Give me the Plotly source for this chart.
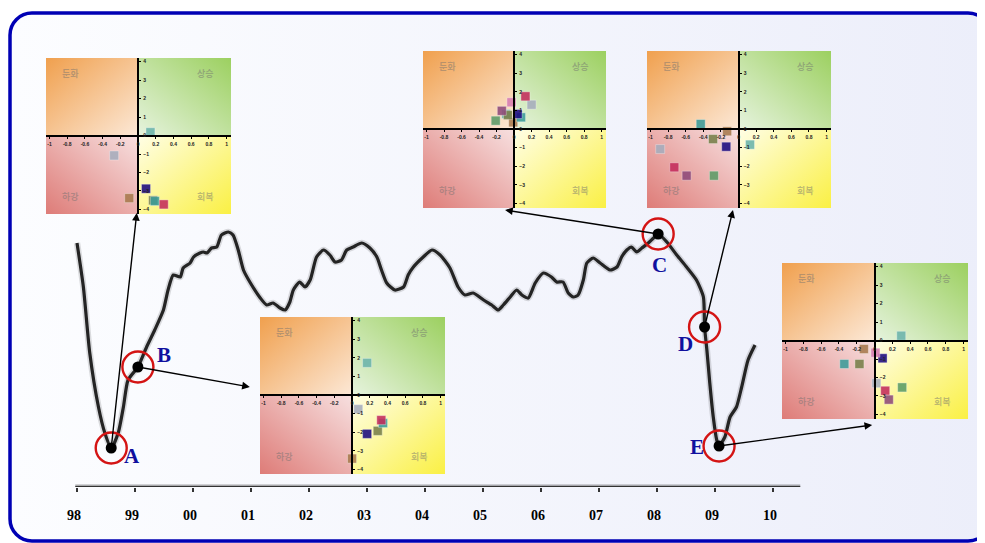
import base64
import plotly.graph_objects as go

# ---------------- data ----------------
# composite business-cycle line (decimal year, index value)
years = [1998.00, 1998.11, 1998.22, 1998.37, 1998.48, 1998.59, 1998.71, 1998.80, 1998.88, 1999.05,
         1999.20, 1999.34, 1999.49, 1999.57, 1999.66, 1999.78, 1999.83, 1999.95, 2000.01, 2000.12,
         2000.18, 2000.24, 2000.32, 2000.41, 2000.49, 2000.61, 2000.69, 2000.78, 2000.87, 2000.98,
         2001.16, 2001.27, 2001.38, 2001.50, 2001.59, 2001.67, 2001.73, 2001.84, 2001.93, 2002.02,
         2002.13, 2002.25, 2002.36, 2002.45, 2002.56, 2002.65, 2002.76, 2002.91, 2003.05, 2003.17,
         2003.25, 2003.34, 2003.48, 2003.63, 2003.71, 2003.80, 2003.97, 2004.12, 2004.26, 2004.43,
         2004.57, 2004.69, 2004.83, 2005.01, 2005.15, 2005.26, 2005.35, 2005.47, 2005.58, 2005.67,
         2005.78, 2005.90, 2006.04, 2006.18, 2006.27, 2006.38, 2006.47, 2006.56, 2006.64, 2006.73,
         2006.79, 2006.90, 2007.02, 2007.19, 2007.31, 2007.39, 2007.48, 2007.56, 2007.65, 2007.74,
         2007.85, 2007.94, 2008.02, 2008.17, 2008.34, 2008.51, 2008.68, 2008.80, 2008.82, 2008.86,
         2008.91, 2008.97, 2009.03, 2009.07, 2009.17, 2009.26, 2009.37, 2009.46, 2009.57, 2009.69]
index_vals = [244, 200, 134, 80, 54, 39, 54, 80, 107, 120,
              140, 157, 177, 197, 212, 210, 219, 224, 230, 234,
              235, 234, 239, 240, 252, 255, 252, 237, 217, 205,
              189, 182, 184, 179, 177, 185, 197, 205, 200, 207,
              230, 237, 232, 225, 227, 237, 240, 244, 239, 230,
              217, 204, 197, 200, 212, 220, 230, 237, 232, 219,
              200, 192, 194, 187, 182, 177, 182, 190, 197, 192,
              189, 204, 214, 210, 205, 205, 194, 190, 192, 207,
              224, 229, 224, 217, 220, 230, 237, 240, 235, 239,
              244, 249, 253, 245, 232, 220, 207, 190, 160, 137,
              104, 70, 47, 41, 50, 70, 80, 100, 127, 142]

event_labels = ['A', 'B', 'C', 'D', 'E']
event_year = [1998.59, 1999.05, 2008.02, 2008.82, 2009.07]
event_val = [39, 120, 253, 160, 41]

tick_years = list(range(1998, 2011))
tick_text = ['98', '99', '00', '01', '02', '03', '04', '05', '06', '07', '08', '09', '10']

# inset scatter series, values at snapshots A..E  (None = not shown)
teal_light_x = [0.14, 0.17, -0.09, 0.13, 0.30]
teal_light_y = [0.18, 1.73, 0.81, -0.84, 0.26]
gray_x = [-0.27, 0.07, 0.20, -0.89, 0.02]
gray_y = [-1.08, -0.76, 1.31, -1.08, -2.31]
brown_x = [-0.10, 0.00, -0.01, -0.13, -0.12]
brown_y = [-3.39, -3.42, 0.36, -0.12, -0.46]
navy_x = [0.09, 0.17, 0.04, -0.14, 0.09]
navy_y = [-2.88, -2.09, 0.81, -0.95, -0.96]
olive_x = [0.17, 0.29, -0.07, -0.29, -0.17]
olive_y = [-3.51, -1.93, 0.75, -0.54, -1.27]
crimson_x = [0.29, 0.33, 0.13, -0.73, 0.12]
crimson_y = [-3.73, -1.35, 1.76, -2.06, -2.72]
teal_x = [0.19, 0.35, 0.08, -0.43, -0.34]
teal_y = [-3.55, -1.51, 0.63, 0.27, -1.27]
pink_x = [None, None, -0.03, None, 0.01]
pink_y = [None, None, 1.44, None, -0.66]
plum_x = [None, None, -0.14, -0.59, 0.16]
plum_y = [None, None, 0.98, -2.51, -3.20]
green_x = [None, None, -0.21, -0.28, 0.31]
green_y = [None, None, 0.45, -2.51, -2.54]

inset_xticks = [-1, -0.8, -0.6, -0.4, -0.2, 0, 0.2, 0.4, 0.6, 0.8, 1]
inset_xtext = ['-1', '-0.8', '-0.6', '-0.4', '-0.2', '0', '0.2', '0.4', '0.6', '0.8', '1']
inset_yticks = [-4, -3, -2, -1, 0, 1, 2, 3, 4]
quad_labels = ['둔화', '상승', '하강', '회복']

# ---------------- style / layout ----------------
W, H = 985, 543
OFF = 8  # the page body margin shifts the figure by this many pixels
series = [
    (teal_light_x, teal_light_y, '#6cb4ac'),
    (gray_x, gray_y, '#a6adbd'),
    (brown_x, brown_y, '#a87a4e'),
    (olive_x, olive_y, '#78804a'),
    (teal_x, teal_y, '#3c9c9a'),
    (navy_x, navy_y, '#1c0a80'),
    (crimson_x, crimson_y, '#c42c5c'),
    (pink_x, pink_y, '#d67cb2'),
    (plum_x, plum_y, '#8e4a7a'),
    (green_x, green_y, '#5c9c68'),
]
# inset boxes in page pixels (left, top, right, bottom)
inset_boxes = [(46, 58, 231, 214), (260, 317, 445, 474), (423, 51, 606, 208),
               (647, 51, 831, 208), (782, 263, 968, 419)]
ix_range = [-1.04, 1.05]
iy_range = [-4.25, 4.2]
quad_pos = [(-0.76, 3.35), (0.76, 3.35), (-0.76, -3.3), (0.76, -3.3)]
label_shift = [(21, -8), (26, 12), (1, -31), (-19, -17), (-22, -1)]
tip_year = [1999.03, 2000.98, 2005.38, 2009.31, 2011.71]
tip_val = [274, 100, 277, 277, 62]

x0_px = 77 - OFF          # pixel of 1998 inside the figure
base_px = 487 - OFF       # pixel row of the time axis inside the figure
x_lo = 1998 - x0_px / 58.0
x_hi = 1998 + (W - x0_px) / 58.0
y_dom0 = 1 - base_px / H


def svg_uri(svg):
    return 'data:image/svg+xml;base64,' + base64.b64encode(svg.encode('utf-8')).decode('ascii')


panel_svg = (
    f'<svg xmlns="http://www.w3.org/2000/svg" width="{W}" height="{H}" viewBox="0 0 {W} {H}">'
    '<defs><linearGradient id="g" x1="0" y1="0" x2="1" y2="0">'
    '<stop offset="0" stop-color="#FCFDFF"/><stop offset="1" stop-color="#ECEEFA"/>'
    '</linearGradient></defs>'
    f'<rect x="{10 - OFF}" y="{13 - OFF}" width="980" height="528" rx="22" ry="22" fill="url(#g)" '
    'stroke="#0000B4" stroke-width="3.5"/></svg>'
)

fx = (0 - ix_range[0]) / (ix_range[1] - ix_range[0])
fy = (iy_range[1] - 0) / (iy_range[1] - iy_range[0])
qx, qy = fx * 1000, fy * 1000
inset_svg = (
    '<svg xmlns="http://www.w3.org/2000/svg" width="200" height="170" viewBox="0 0 1000 1000" '
    'preserveAspectRatio="none"><defs>'
    '<linearGradient id="tl" x1="0" y1="0" x2="1" y2="1"><stop offset="0" stop-color="#F0A04E"/>'
    '<stop offset="1" stop-color="#FCE8D6"/></linearGradient>'
    '<linearGradient id="tr" x1="1" y1="0" x2="0" y2="1"><stop offset="0" stop-color="#9CD060"/>'
    '<stop offset="1" stop-color="#E6F3DE"/></linearGradient>'
    '<linearGradient id="bl" x1="0" y1="1" x2="1" y2="0"><stop offset="0" stop-color="#DE7C78"/>'
    '<stop offset="1" stop-color="#F7E0E0"/></linearGradient>'
    '<linearGradient id="br" x1="1" y1="1" x2="0" y2="0"><stop offset="0" stop-color="#FAF044"/>'
    '<stop offset="1" stop-color="#FFFEE6"/></linearGradient></defs>'
    f'<rect x="0" y="0" width="{qx}" height="{qy}" fill="url(#tl)"/>'
    f'<rect x="{qx}" y="0" width="{1000 - qx}" height="{qy}" fill="url(#tr)"/>'
    f'<rect x="0" y="{qy}" width="{qx}" height="{1000 - qy}" fill="url(#bl)"/>'
    f'<rect x="{qx}" y="{qy}" width="{1000 - qx}" height="{1000 - qy}" fill="url(#br)"/>'
    '</svg>'
)

fig = go.Figure()

# main line (soft shadow + line)
fig.add_trace(go.Scatter(x=years, y=index_vals, mode='lines', hoverinfo='skip',
                         line=dict(color='rgba(0,0,0,0.13)', width=6.5, shape='spline', smoothing=0.6),
                         showlegend=False))
fig.add_trace(go.Scatter(x=years, y=index_vals, mode='lines',
                         line=dict(color='#242424', width=3.2, shape='spline', smoothing=0.6),
                         showlegend=False))
# event circles and dots
fig.add_trace(go.Scatter(x=event_year, y=event_val, mode='markers',
                         marker=dict(symbol='circle-open', size=31, color='#D41414',
                                     line=dict(color='#D41414', width=2.4)),
                         showlegend=False))
fig.add_trace(go.Scatter(x=event_year, y=event_val, mode='markers',
                         marker=dict(symbol='circle', size=11, color='black'), showlegend=False))

layout_axes = {}
images = [dict(source=svg_uri(panel_svg), xref='paper', yref='paper', x=0, y=1, sizex=1, sizey=1,
               xanchor='left', yanchor='top', sizing='stretch', layer='below')]
annotations = []

for k, (l, t, r, b) in enumerate(inset_boxes):
    n = k + 2
    xd = [(l - OFF) / W, (r - OFF) / W]
    yd = [1 - (b - OFF) / H, 1 - (t - OFF) / H]
    x0_paper = xd[0] + fx * (xd[1] - xd[0])
    y0_paper = yd[0] + (1 - fy) * (yd[1] - yd[0])
    layout_axes[f'xaxis{n}'] = dict(
        domain=xd, range=ix_range, anchor='free', position=y0_paper, side='bottom',
        showgrid=False, zeroline=False, showline=True, linecolor='black', linewidth=1.5,
        ticks='outside', ticklen=2.5, tickwidth=1, tickcolor='black',
        tickvals=inset_xticks, ticktext=inset_xtext, ticklabelstandoff=1,
        tickfont=dict(family='Liberation Sans', size=5, color='#222', weight='bold'),
        fixedrange=True)
    layout_axes[f'yaxis{n}'] = dict(
        domain=yd, range=iy_range, anchor='free', position=x0_paper, side='right',
        showgrid=False, zeroline=False, showline=True, linecolor='black', linewidth=1.5,
        ticks='outside', ticklen=2.5, tickwidth=1, tickcolor='black',
        tickvals=inset_yticks, ticklabelstandoff=1,
        tickfont=dict(family='Liberation Sans', size=5, color='#222', weight='bold'),
        fixedrange=True)
    images.append(dict(source=svg_uri(inset_svg), xref='paper', yref='paper',
                       x=xd[0], y=yd[1], sizex=xd[1] - xd[0], sizey=yd[1] - yd[0],
                       xanchor='left', yanchor='top', sizing='stretch', layer='below'))
    for txt, (qxv, qyv) in zip(quad_labels, quad_pos):
        annotations.append(dict(x=qxv, y=qyv, xref=f'x{n}', yref=f'y{n}', text=txt, showarrow=False,
                                font=dict(family='Noto Sans CJK KR', size=9, color='rgba(110,110,110,0.45)',
                                          weight='bold')))
    sx, sy, sc = [], [], []
    for xs, ys, c in series:
        if xs[k] is not None:
            sx.append(xs[k]); sy.append(ys[k]); sc.append(c)
    fig.add_trace(go.Scatter(x=sx, y=sy, xaxis=f'x{n}', yaxis=f'y{n}', mode='markers',
                             marker=dict(symbol='square', size=9, color=sc, opacity=0.88,
                                         line=dict(color='rgba(255,255,255,0.35)', width=1)),
                             showlegend=False))

# arrows from events to their snapshot panels
for i in range(len(event_labels)):
    annotations.append(dict(x=tip_year[i], y=tip_val[i], xref='x', yref='y',
                            ax=event_year[i], ay=event_val[i], axref='x', ayref='y',
                            text='', showarrow=True, arrowhead=2, arrowsize=1.1, arrowwidth=1.4,
                            arrowcolor='black', standoff=0, startstandoff=0))
    annotations.append(dict(x=event_year[i], y=event_val[i], xref='x', yref='y', text=event_labels[i],
                            showarrow=False, xshift=label_shift[i][0], yshift=label_shift[i][1],
                            font=dict(family='Liberation Serif', size=21, color='#10109E', weight='bold')))

fig.update_layout(
    width=W, height=H, autosize=False, margin=dict(l=0, r=0, t=0, b=0),
    paper_bgcolor='white', plot_bgcolor='rgba(0,0,0,0)', showlegend=False,
    xaxis=dict(domain=[0, 1], range=[x_lo, x_hi], showgrid=False, zeroline=False, showline=False,
               ticks='outside', ticklen=4, tickwidth=2, tickcolor='#333',
               tickvals=tick_years, ticktext=tick_text, ticklabelstandoff=11, ticklabelshift=-3,
               tickfont=dict(family='Liberation Serif', size=14, color='black', weight='bold'),
               fixedrange=True),
    yaxis=dict(domain=[y_dom0, 1], range=[0, base_px], visible=False, fixedrange=True),
    images=images, annotations=annotations,
    shapes=[dict(type='line', xref='x', yref='y', x0=1997.97, x1=2010.47, y0=0, y1=0,
                 line=dict(color='rgba(0,0,0,0.16)', width=6), layer='below'),
            dict(type='line', xref='x', yref='y', x0=1997.97, x1=2010.47, y0=0, y1=0,
                 line=dict(color='#333', width=2.5))],
    **layout_axes,
)

fig.write_html('out.html', config={'displayModeBar': False})
